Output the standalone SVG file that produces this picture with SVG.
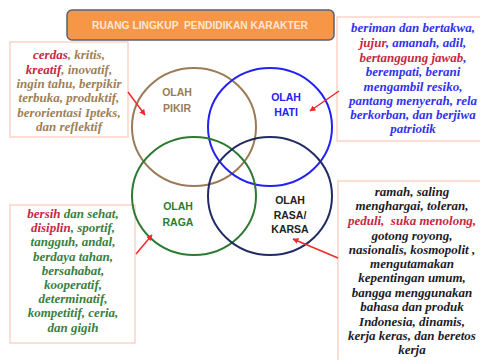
<svg xmlns="http://www.w3.org/2000/svg" width="480" height="360" viewBox="0 0 480 360">
<style>
.box{fill:#fff;stroke:#f9cdbf;stroke-width:1.3}
.t{font-family:"Liberation Serif","DejaVu Serif",serif;font-weight:bold;font-style:italic;font-size:13px;text-anchor:middle}
.r{fill:#c7283f}
.lbl{font-family:"Liberation Sans","Open Sans",sans-serif;font-weight:bold;font-size:10.5px;text-anchor:middle}
.c{fill:none;stroke-width:2}
.arr{stroke:#f0282a;stroke-width:1.5;fill:none;marker-end:url(#ah)}
</style>
<defs>
<marker id="ah" viewBox="0 0 10 10" refX="9" refY="5" markerWidth="6" markerHeight="6" orient="auto" markerUnits="userSpaceOnUse"><path d="M0,0 L10,5 L0,10 z" fill="#f0282a"/></marker>
</defs>
<rect width="480" height="360" fill="#fff"/>
<g id="title">
<rect x="67" y="10" width="267" height="30" rx="5" fill="#f79646" stroke="#56627a" stroke-width="1.5"/>
<text x="200" y="29" font-family="'Liberation Sans',sans-serif" font-weight="bold" font-size="10.5" fill="#fde6d6" text-anchor="middle" textLength="216" lengthAdjust="spacingAndGlyphs" xml:space="preserve">RUANG LINGKUP  PENDIDIKAN KARAKTER</text>
</g>
<g id="box-pikir">
<rect class="box" x="10" y="42" width="118" height="95"/>
<g class="t" fill="#a07f55">
<text x="69" y="59"><tspan class="r">cerdas</tspan>, kritis,</text>
<text x="69" y="74"><tspan class="r">kreatif</tspan>, inovatif,</text>
<text x="69" y="88">ingin tahu, berpikir</text>
<text x="69" y="102">terbuka, produktif,</text>
<text x="69" y="117">berorientasi Ipteks,</text>
<text x="69" y="131">dan reflektif</text>
</g>
</g>
<g id="box-hati">
<rect class="box" x="337" y="17" width="146" height="124"/>
<g class="t" fill="#3232f0">
<text x="413" y="32">beriman dan bertakwa,</text>
<text x="413" y="47"><tspan class="r">jujur</tspan>, amanah, adil,</text>
<text x="413" y="62"><tspan class="r">bertanggung jawab</tspan>,</text>
<text x="413" y="76">berempati, berani</text>
<text x="413" y="91">mengambil resiko,</text>
<text x="413" y="105">pantang menyerah, rela</text>
<text x="413" y="119">berkorban, dan berjiwa</text>
<text x="413" y="133">patriotik</text>
</g>
</g>
<g id="box-raga">
<rect class="box" x="10" y="205" width="125" height="138"/>
<g class="t" fill="#3a8040">
<text x="73" y="218"><tspan class="r">bersih</tspan> dan sehat,</text>
<text x="73" y="232"><tspan class="r">disiplin</tspan>, sportif,</text>
<text x="73" y="246">tangguh, andal,</text>
<text x="73" y="261">berdaya tahan,</text>
<text x="73" y="275">bersahabat,</text>
<text x="73" y="289">kooperatif,</text>
<text x="73" y="303">determinatif,</text>
<text x="73" y="317">kompetitif, ceria,</text>
<text x="73" y="332">dan gigih</text>
</g>
</g>
<g id="box-rasa">
<rect class="box" x="338" y="181" width="146" height="185"/>
<g class="t" fill="#1c1c28">
<text x="412" y="196">ramah, saling</text>
<text x="412" y="210">menghargai, toleran,</text>
<text x="412" y="225" xml:space="preserve"><tspan class="r">peduli,  suka menolong,</tspan></text>
<text x="412" y="240">gotong royong,</text>
<text x="412" y="254">nasionalis, kosmopolit ,</text>
<text x="412" y="268">mengutamakan</text>
<text x="412" y="282">kepentingan umum,</text>
<text x="412" y="297">bangga menggunakan</text>
<text x="412" y="311">bahasa dan produk</text>
<text x="412" y="326">Indonesia, dinamis,</text>
<text x="412" y="340">kerja keras, dan beretos</text>
<text x="412" y="354">kerja</text>
</g>
</g>
<g id="olah-pikir">
<ellipse class="c" cx="194" cy="127" rx="62" ry="59" stroke="#9b7b56"/>
<text class="lbl" x="177" y="96" fill="#9b7b56">OLAH</text>
<text class="lbl" x="177" y="112" fill="#9b7b56">PIKIR</text>
</g>
<g id="olah-hati">
<ellipse class="c" cx="270" cy="127" rx="62" ry="59" stroke="#2222f5"/>
<text class="lbl" x="286" y="101" fill="#2222f5">OLAH</text>
<text class="lbl" x="286" y="116" fill="#2222f5">HATI</text>
</g>
<g id="olah-raga">
<ellipse class="c" cx="194" cy="196" rx="62" ry="59" stroke="#2e7a33"/>
<text class="lbl" x="178" y="210" fill="#2e7a33">OLAH</text>
<text class="lbl" x="178" y="226" fill="#2e7a33">RAGA</text>
</g>
<g id="olah-rasa">
<ellipse class="c" cx="270" cy="196" rx="62" ry="59" stroke="#222a66"/>
<text class="lbl" x="290" y="204" fill="#222">OLAH</text>
<text class="lbl" x="290" y="219" fill="#222">RASA/</text>
<text class="lbl" x="290" y="233" fill="#222">KARSA</text>
</g>
<g id="connectors">
<line class="arr" x1="128" y1="92" x2="145" y2="115"/>
<line class="arr" x1="339" y1="91" x2="310" y2="111"/>
<line class="arr" x1="136" y1="254" x2="152" y2="235"/>
<line class="arr" x1="338" y1="258" x2="293" y2="239"/>
</g>
</svg>
